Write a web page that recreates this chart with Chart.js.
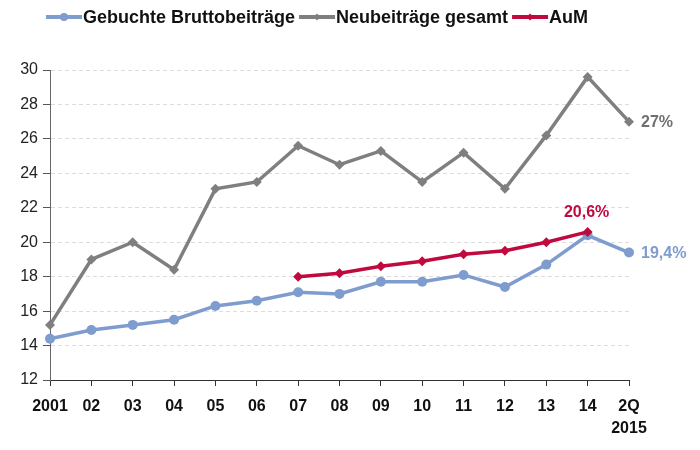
<!DOCTYPE html>
<html><head><meta charset="utf-8">
<script src="https://cdn.jsdelivr.net/npm/chart.js@4"></script>
<style>html,body{margin:0;padding:0;background:#fff}#w{width:700px;height:450px}</style>
</head><body><div id="w"><canvas id="c"></canvas></div>
<script>
const categories = ['2001','02','03','04','05','06','07','08','09','10','11','12','13','14',['2Q','2015']];
const bruttobeitraege = [14.4,14.9,15.2,15.5,16.3,16.6,17.1,17.0,17.7,17.7,18.1,17.4,18.7,20.4,19.4];
const neubeitraege = [15.2,19.0,20.0,18.4,23.1,23.5,25.6,24.5,25.3,23.5,25.2,23.1,26.2,29.6,27.0];
const aum = [null,null,null,null,null,null,18.0,18.2,18.6,18.9,19.3,19.5,20.0,20.6,null];
const seriesNames = ['Gebuchte Bruttobeiträge','Neubeiträge gesamt','AuM'];
const yTicks = [12,14,16,18,20,22,24,26,28,30];
const endLabels = ['19,4%','27%','20,6%'];

const colors = ['#7f9ccf','#7f7f7f','#c00a3e'];
const textColors = ['#7f9ccf','#707070','#c00a3e'];
const styles = ['circle','rectRot','rectRot'];
const radii = [5,5,5];
const FONT = '"Liberation Sans", Arial, sans-serif';

const legendPlugin = {
  id:'customLegend',
  afterDraw(chart){
    const ctx = chart.ctx;
    ctx.save();
    ctx.font = 'bold 18px ' + FONT;
    ctx.textBaseline = 'middle';
    let x = 46; const y = 17;
    chart.data.datasets.forEach((ds,i)=>{
      ctx.strokeStyle = ds.borderColor; ctx.lineWidth = 4;
      ctx.beginPath(); ctx.moveTo(x,y); ctx.lineTo(x+36,y); ctx.stroke();
      ctx.fillStyle = ds.borderColor;
      ctx.beginPath();
      if (i===0){ ctx.arc(x+18,y,4,0,Math.PI*2); }
      else { ctx.moveTo(x+18,y-3.5); ctx.lineTo(x+21.5,y); ctx.lineTo(x+18,y+3.5); ctx.lineTo(x+14.5,y); ctx.closePath(); }
      ctx.fill();
      ctx.fillStyle = '#111';
      ctx.textAlign='left';
      ctx.fillText(seriesNames[i], x+37, y+1);
      x += 37 + ctx.measureText(seriesNames[i]).width + 4;
    });
    const xs = chart.scales.x, ys = chart.scales.y;
    ctx.font = 'bold 16px ' + FONT;
    ctx.fillStyle = textColors[0]; ctx.textAlign='left';
    ctx.fillText(endLabels[0], xs.getPixelForValue(14)+12, ys.getPixelForValue(bruttobeitraege[14])+1);
    ctx.fillStyle = textColors[1];
    ctx.fillText(endLabels[1], xs.getPixelForValue(14)+12, ys.getPixelForValue(neubeitraege[14])+1);
    ctx.fillStyle = textColors[2]; ctx.textAlign='center';
    ctx.fillText(endLabels[2], xs.getPixelForValue(13)-1, ys.getPixelForValue(aum[13])-19);
    ctx.restore();
  }
};

const data = [bruttobeitraege, neubeitraege, aum];
new Chart(document.getElementById('c'), {
  type:'line',
  data:{
    labels: categories,
    datasets: data.map((d,i)=>({
      label: seriesNames[i], data:d,
      borderColor: colors[i], backgroundColor: colors[i],
      borderWidth: 3.5, pointStyle: styles[i], pointRadius: radii[i],
      pointBorderWidth: 0, pointHoverRadius: radii[i], tension:0, spanGaps:false,
      order: i===0?3:(i===1?2:1)
    }))
  },
  options:{
    responsive:true, maintainAspectRatio:false, animation:false,
    layout:{padding:{top:70,right:71,left:0,bottom:0}},
    plugins:{legend:{display:false}, tooltip:{enabled:false}},
    scales:{
      x:{
        offset:false,
        grid:{drawOnChartArea:false, drawTicks:true, tickLength:6, tickColor:'#333', tickWidth:1},
        border:{color:'#333', width:1},
        ticks:{font:{family:FONT, size:16, weight:'bold', lineHeight:1.35}, color:'#111', padding:10, maxRotation:0, autoSkip:false},
        afterFit(s){ s.height = 70; }
      },
      y:{
        min:12, max:30,
        afterBuildTicks(s){ s.ticks = yTicks.map(v=>({value:v})); },
        grid:{color:'#dcdcdc', lineWidth:1, drawTicks:true, tickLength:7, tickColor:'#555', tickBorderDash:[], tickWidth:1},
        border:{color:'#666', width:1, dash:[4,3]},
        ticks:{font:{family:FONT, size:16}, color:'#222', padding:5},
        afterFit(s){ s.width = 50; }
      }
    }
  },
  plugins:[legendPlugin]
});
</script></body></html>
